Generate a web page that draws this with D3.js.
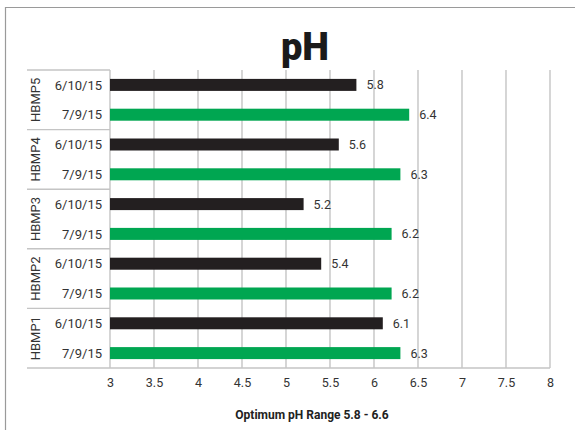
<!DOCTYPE html>
<html>
<head>
<meta charset="utf-8">
<script src="https://cdn.jsdelivr.net/npm/d3@7"></script>
<style>
  body { margin: 0; background: #fff; }
  text { font-family: Roboto, "DejaVu Sans", sans-serif; }
</style>
</head>
<body>
<div id="chart"></div>
<script>
// groups top to bottom, each has two dates
var groups = ["HBMP5", "HBMP4", "HBMP3", "HBMP2", "HBMP1"];
var dates = ["6/10/15", "7/9/15"];
var juneValues = [5.8, 5.6, 5.2, 5.4, 6.1];
var julyValues = [6.4, 6.3, 6.2, 6.2, 6.3];
var xTicks = [3, 3.5, 4, 4.5, 5, 5.5, 6, 6.5, 7, 7.5, 8];
var title = "pH";
var xTitle = "Optimum pH Range 5.8 - 6.6";

var W = 575, H = 430;
var plotLeft = 110, plotRight = 550, plotTop = 70, plotBottom = 368, boxLeft = 27;

var rows = [];
groups.forEach(function(g, i) {
  rows.push({group: g, date: dates[0], value: juneValues[i], key: g + "|" + dates[0], color: "#231f20"});
  rows.push({group: g, date: dates[1], value: julyValues[i], key: g + "|" + dates[1], color: "#00a651"});
});

var svg = d3.select("#chart").append("svg")
    .attr("width", W)
    .attr("height", H);

// outer frame (top and left only visible)
svg.append("line").attr("x1", 5).attr("x2", W).attr("y1", 7.5).attr("y2", 7.5)
  .attr("stroke", "#9a9a9a").attr("stroke-width", 1.2);
svg.append("line").attr("x1", 5.5).attr("x2", 5.5).attr("y1", 7).attr("y2", H)
  .attr("stroke", "#9a9a9a").attr("stroke-width", 1.2);

var xScale = d3.scaleLinear().domain([3, 8]).range([plotLeft, plotRight]);
var yScale = d3.scaleBand().domain(rows.map(d => d.key)).range([plotTop, plotBottom]);
var gScale = d3.scaleBand().domain(groups).range([plotTop, plotBottom]);

// grid lines
svg.append("g")
  .selectAll("line")
  .data(xTicks)
  .join("line")
    .attr("x1", d => xScale(d)).attr("x2", d => xScale(d))
    .attr("y1", plotTop).attr("y2", plotBottom)
    .attr("stroke", "#c4c4c4").attr("stroke-width", 1.4);

// left label box separators
svg.append("g")
  .selectAll("line")
  .data(groups)
  .join("line")
    .attr("x1", boxLeft).attr("x2", plotLeft)
    .attr("y1", d => gScale(d)).attr("y2", d => gScale(d))
    .attr("stroke", "#c4c4c4").attr("stroke-width", 1.4);

svg.append("line")
  .attr("x1", boxLeft).attr("x2", plotRight)
  .attr("y1", plotBottom).attr("y2", plotBottom)
  .attr("stroke", "#c4c4c4").attr("stroke-width", 1.4);

// bars
var barH = 12;
svg.append("g")
  .selectAll("rect")
  .data(rows)
  .join("rect")
    .attr("x", xScale(3))
    .attr("y", d => yScale(d.key) + yScale.bandwidth() / 2 - barH / 2)
    .attr("width", d => xScale(d.value) - xScale(3))
    .attr("height", barH)
    .attr("fill", d => d.color);

// value labels
svg.append("g")
  .selectAll("text")
  .data(rows)
  .join("text")
    .attr("x", d => xScale(d.value) + 10)
    .attr("y", d => yScale(d.key) + yScale.bandwidth() / 2)
    .attr("dy", "0.36em")
    .attr("font-size", "12.5px")
    .attr("fill", "#333")
    .text(d => d.value.toFixed(1));

// date labels
svg.append("g")
  .selectAll("text")
  .data(rows)
  .join("text")
    .attr("x", plotLeft - 8)
    .attr("y", d => yScale(d.key) + yScale.bandwidth() / 2)
    .attr("dy", "0.36em")
    .attr("text-anchor", "end")
    .attr("font-size", "13px")
    .attr("fill", "#333")
    .text(d => d.date);

// group labels (rotated)
svg.append("g")
  .selectAll("text")
  .data(groups)
  .join("text")
    .attr("transform", d => "translate(35," + (gScale(d) + gScale.bandwidth() / 2) + ") rotate(-90)")
    .attr("dy", "0.36em")
    .attr("text-anchor", "middle")
    .attr("font-size", "13px")
    .attr("fill", "#333")
    .text(d => d);

// x axis tick labels
var xAxis = d3.axisBottom(xScale).tickValues(xTicks).tickSize(0).tickPadding(10)
  .tickFormat(d3.format("~g"));
var ax = svg.append("g")
  .attr("transform", "translate(0," + plotBottom + ")")
  .call(xAxis);
ax.select(".domain").remove();
ax.selectAll("text")
  .attr("font-family", "Roboto, 'DejaVu Sans', sans-serif")
  .attr("font-size", "12.5px")
  .attr("fill", "#333");

// axis title
svg.append("text")
  .attr("x", 312).attr("y", 419)
  .attr("text-anchor", "middle")
  .attr("font-size", "12px")
  .attr("font-weight", "bold")
  .attr("fill", "#222")
  .text(xTitle);

// chart title
svg.append("text")
  .attr("x", 305).attr("y", 60)
  .attr("text-anchor", "middle")
  .attr("font-size", "38px")
  .attr("font-weight", "900")
  .attr("fill", "#1a1a1a")
  .text(title);
</script>
</body>
</html>
